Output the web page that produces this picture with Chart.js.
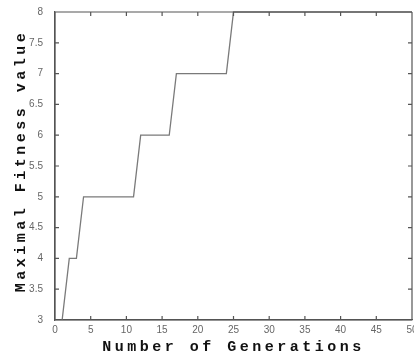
<!DOCTYPE html>
<html>
<head>
<meta charset="utf-8">
<script src="https://cdn.jsdelivr.net/npm/chart.js@4/dist/chart.umd.min.js"></script>
<style>
  html, body { margin: 0; padding: 0; background: #fff; }
  #wrap { width: 414px; height: 361px; position: relative; }
</style>
</head>
<body>
<div id="wrap"><canvas id="c"></canvas></div>
<script>
const generations = [1,2,3,4,5,6,7,8,9,10,11,12,13,14,15,16,17,18,19,20,21,22,23,24,25,26,27,28,29,30,31,32,33,34,35,36,37,38,39,40,41,42,43,44,45,46,47,48,49,50];
const maxFitness = [3,4,4,5,5,5,5,5,5,5,5,6,6,6,6,6,7,7,7,7,7,7,7,7,8,8,8,8,8,8,8,8,8,8,8,8,8,8,8,8,8,8,8,8,8,8,8,8,8,8];
const xTickValues = [0,5,10,15,20,25,30,35,40,45,50];
const yTickValues = [3,3.5,4,4.5,5,5.5,6,6.5,7,7.5,8];
const xTitle = 'Number of Generations';
const yTitle = 'Maximal Fitness value';

const frameColor = '#555';

const framePlugin = {
  id: 'frame',
  beforeDraw(chart) {
    ['x', 'y'].forEach(id => {
      const s = chart.scales[id];
      if (s && !s._lsPatched) {
        const orig = s.drawTitle;
        s.drawTitle = function () {
          const ctx = this.ctx;
          ctx.save();
          ctx.letterSpacing = '3.5px';
          if (this.axis === 'y') ctx.translate(0, -5);
          orig.apply(this, arguments);
          ctx.restore();
        };
        s._lsPatched = true;
      }
    });
  },
  afterDatasetsDraw(chart) {
    const {ctx, chartArea: a, scales: {x, y}} = chart;
    ctx.save();
    ctx.strokeStyle = frameColor;
    ctx.lineWidth = 1.2;
    ctx.beginPath();
    const L = a.left, R = a.right, T = a.top, B = a.bottom;
    ctx.moveTo(L, T); ctx.lineTo(R, T);
    ctx.moveTo(R, T); ctx.lineTo(R, B);
    ctx.moveTo(L, B); ctx.lineTo(R, B);
    ctx.moveTo(L, T); ctx.lineTo(L, B);
    const tl = 4;
    x.ticks.forEach(t => {
      const px = x.getPixelForValue(t.value);
      ctx.moveTo(px, B); ctx.lineTo(px, B - tl);
      ctx.moveTo(px, T); ctx.lineTo(px, T + tl);
    });
    y.ticks.forEach(t => {
      const py = y.getPixelForValue(t.value);
      ctx.moveTo(L, py); ctx.lineTo(L + tl, py);
      ctx.moveTo(R, py); ctx.lineTo(R - tl, py);
    });
    ctx.stroke();
    ctx.restore();
  }
};

const points = generations.map((g, i) => ({x: g, y: maxFitness[i]}));

new Chart(document.getElementById('c'), {
  type: 'line',
  data: {
    datasets: [{
      data: points,
      borderColor: '#7a7a7a',
      borderWidth: 1.3,
      pointRadius: 0,
      tension: 0,
      fill: false,
      clip: 3
    }]
  },
  options: {
    responsive: true,
    maintainAspectRatio: false,
    animation: false,
    layout: { padding: { top: 12, right: 2, bottom: 0, left: 0 } },
    plugins: { legend: { display: false }, tooltip: { enabled: false } },
    scales: {
      x: {
        type: 'linear',
        min: 0, max: 50,
        grid: { display: false },
        border: { display: true, color: frameColor, width: 1.2 },
        afterBuildTicks(s) { s.ticks = xTickValues.map(v => ({value: v})); },
        ticks: { padding: -4, color: '#666', font: { family: 'Liberation Sans', size: 10 }, maxRotation: 0, autoSkip: false, callback: v => String(v) },
        title: { display: true, text: xTitle, color: '#111', padding: { top: 0, bottom: 5 }, font: { family: 'Liberation Mono', size: 15, weight: 'bold', lineHeight: 1.2 } },
        afterFit(s) { s.height = 41; }
      },
      y: {
        type: 'linear',
        min: 3, max: 8,
        grid: { display: false },
        border: { display: true, color: frameColor, width: 1.2 },
        afterBuildTicks(s) { s.ticks = yTickValues.map(v => ({value: v})); },
        ticks: { padding: 4, color: '#666', font: { family: 'Liberation Sans', size: 10 }, autoSkip: false, callback: v => String(v) },
        title: { display: true, text: yTitle, color: '#111', padding: { top: 12, bottom: 0 }, font: { family: 'Liberation Mono', size: 15, weight: 'bold', lineHeight: 1.2 } },
        afterFit(s) { s.width = 55; }
      }
    }
  },
  plugins: [framePlugin]
});
</script>
</body>
</html>
